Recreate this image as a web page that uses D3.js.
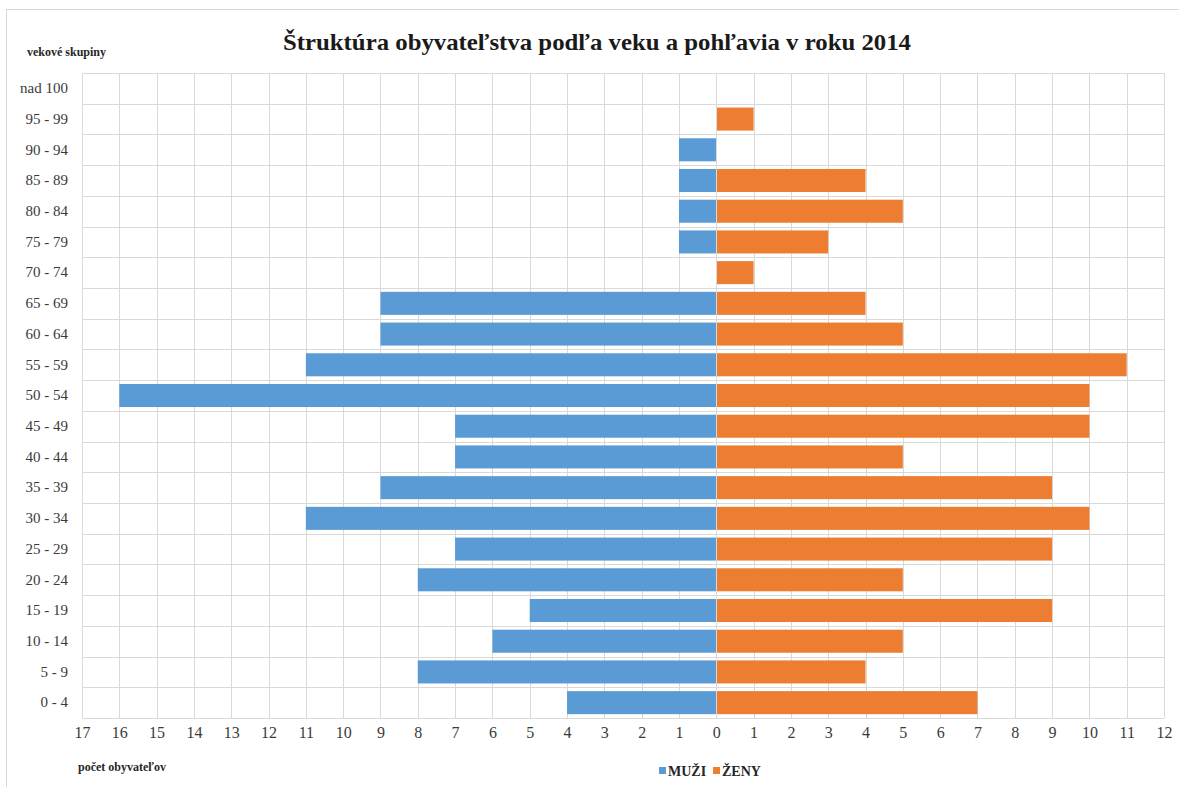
<!DOCTYPE html>
<html>
<head>
<meta charset="utf-8">
<script src="https://cdn.jsdelivr.net/npm/d3@7"></script>
<style>
  body { margin: 0; background: #fff; }
  text { font-family: "Liberation Serif", "Times New Roman", serif; }
</style>
</head>
<body>
<svg id="chart" width="1179" height="787"></svg>
<script>
// data
var groups = ["nad 100", "95 - 99", "90 - 94", "85 - 89", "80 - 84", "75 - 79", "70 - 74",
  "65 - 69", "60 - 64", "55 - 59", "50 - 54", "45 - 49", "40 - 44", "35 - 39",
  "30 - 34", "25 - 29", "20 - 24", "15 - 19", "10 - 14", "5 - 9", "0 - 4"]
var muzi = [0, 0, 1, 1, 1, 1, 0, 9, 9, 11, 16, 7, 7, 9, 11, 7, 8, 5, 6, 8, 4]
var zeny = [0, 1, 0, 4, 5, 3, 1, 4, 5, 11, 10, 10, 5, 9, 10, 9, 5, 9, 5, 4, 7]
var xTicks = d3.range(-17, 13)
var seriesNames = ["MUŽI", "ŽENY"]
var colors = ["#5b9bd5", "#ed7d31"]

var svg = d3.select("#chart")

var plotLeft = 82, plotRight = 1164, plotTop = 73, plotBottom = 718

// outer frame
svg.append("rect")
    .attr("x", 6.5).attr("y", 9.5)
    .attr("width", 1190).attr("height", 790)
    .attr("fill", "none")
    .attr("stroke", "#d9d9d9")

var x = d3.scaleLinear().domain([-17, 12]).range([plotLeft, plotRight])
var y = d3.scaleBand().domain(groups).range([plotTop, plotBottom]).paddingInner(0.25).paddingOuter(0.125)

// grid
var gridY = d3.scaleBand().domain(groups).range([plotTop, plotBottom])
svg.append("g").selectAll("line")
    .data(xTicks)
    .enter().append("line")
    .attr("x1", d => Math.round(x(d)) + 0.5).attr("x2", d => Math.round(x(d)) + 0.5)
    .attr("y1", plotTop).attr("y2", plotBottom)
    .attr("stroke", "#d9d9d9")
svg.append("g").selectAll("line")
    .data(groups.concat([null]))
    .enter().append("line")
    .attr("x1", plotLeft).attr("x2", plotRight)
    .attr("y1", d => Math.round(d === null ? plotBottom : gridY(d)) + 0.5)
    .attr("y2", d => Math.round(d === null ? plotBottom : gridY(d)) + 0.5)
    .attr("stroke", "#d9d9d9")

// bars
svg.append("g").selectAll("rect")
    .data(groups)
    .enter().append("rect")
    .attr("x", (d, i) => x(-muzi[i]))
    .attr("y", d => y(d))
    .attr("width", (d, i) => x(0) - x(-muzi[i]))
    .attr("height", y.bandwidth())
    .attr("fill", colors[0])
svg.append("g").selectAll("rect")
    .data(groups)
    .enter().append("rect")
    .attr("x", x(0))
    .attr("y", d => y(d))
    .attr("width", (d, i) => x(zeny[i]) - x(0))
    .attr("height", y.bandwidth())
    .attr("fill", colors[1])

// zero line
svg.append("line")
    .attr("x1", Math.round(x(0)) + 0.5).attr("x2", Math.round(x(0)) + 0.5)
    .attr("y1", plotTop).attr("y2", plotBottom)
    .attr("stroke", "#d9d9d9")

// x axis
var xAxis = d3.axisBottom(x).tickValues(xTicks).tickSize(0).tickPadding(9)
    .tickFormat(d => Math.abs(d))
var gx = svg.append("g").attr("transform", "translate(0," + plotBottom + ")").call(xAxis)
gx.attr("font-family", "'Liberation Serif', serif")
gx.select(".domain").remove()
gx.selectAll("text")
    .style("font-family", "'Liberation Serif', serif")
    .style("font-size", "16px")
    .attr("fill", "#3a3a3a")

// y axis
var yAxis = d3.axisLeft(gridY).tickSize(0).tickPadding(14)
var gy = svg.append("g").attr("transform", "translate(" + plotLeft + ",0)").call(yAxis)
gy.attr("font-family", "'Liberation Serif', serif")
gy.select(".domain").remove()
gy.selectAll("text")
    .style("font-family", "'Liberation Serif', serif")
    .style("font-size", "15px")
    .attr("fill", "#3a3a3a")

// title and axis titles
svg.append("text")
    .attr("x", 597).attr("y", 50)
    .attr("text-anchor", "middle")
    .attr("font-size", "24px")
    .attr("font-weight", "bold")
    .attr("textLength", 628)
    .attr("lengthAdjust", "spacingAndGlyphs")
    .attr("fill", "#1a1a1a")
    .text("Štruktúra obyvateľstva podľa veku a pohľavia v roku 2014")

svg.append("text")
    .attr("x", 27).attr("y", 56)
    .attr("font-size", "12px")
    .attr("font-weight", "bold")
    .attr("fill", "#262626")
    .text("vekové skupiny")

svg.append("text")
    .attr("x", 78).attr("y", 771)
    .attr("font-size", "12px")
    .attr("font-weight", "bold")
    .attr("fill", "#262626")
    .text("počet obyvateľov")

// legend
var legend = svg.append("g").attr("transform", "translate(659,776)")
var lx = [0, 54]
seriesNames.forEach(function (name, i) {
  legend.append("rect")
      .attr("x", lx[i]).attr("y", -9)
      .attr("width", 7).attr("height", 7)
      .attr("fill", colors[i])
  legend.append("text")
      .attr("x", lx[i] + 9).attr("y", 0)
      .attr("font-size", "14px")
      .attr("font-weight", "bold")
      .attr("fill", "#262626")
      .text(name)
})
</script>
</body>
</html>
